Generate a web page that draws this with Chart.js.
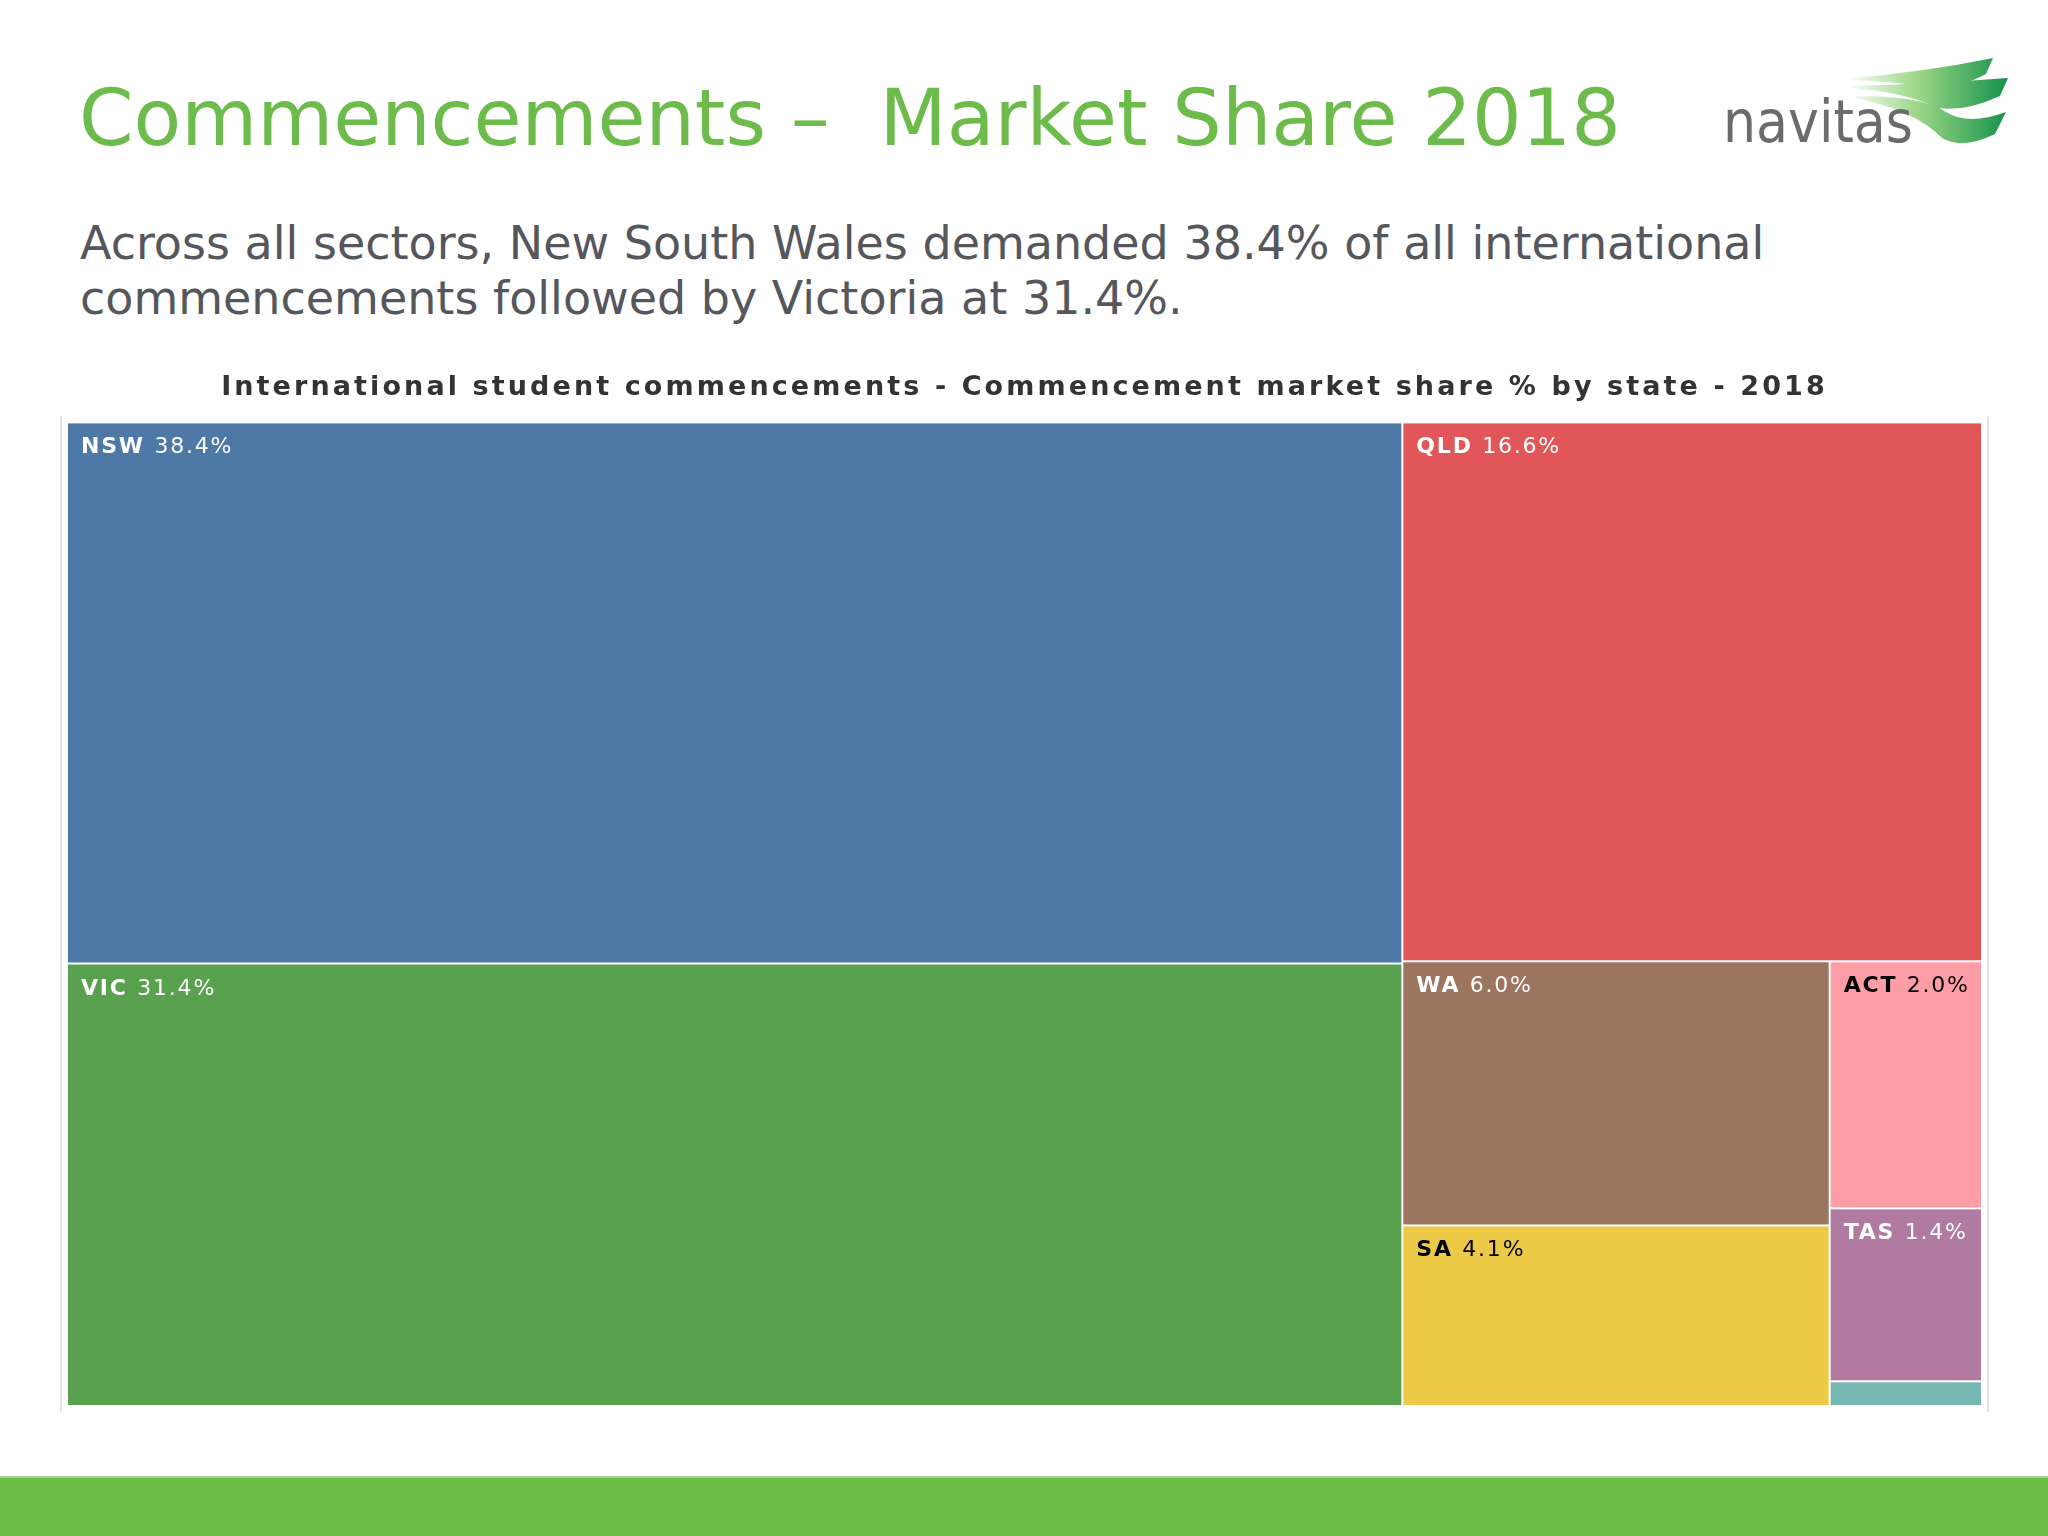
<!DOCTYPE html>
<html>
<head>
<meta charset="utf-8">
<title>Commencements - Market Share 2018</title>
<script src="https://cdn.jsdelivr.net/npm/chart.js"></script>
<style>
  html, body { margin: 0; padding: 0; background: #fff; }
  body { width: 2048px; height: 1536px; position: relative; overflow: hidden; font-family: "DejaVu Sans", Verdana, sans-serif; }
  .panel { position: absolute; left: 78px; top: 160px; width: 1920px; height: 1310px; background: #fefefe; }
  h1 { position: absolute; left: 79px; top: 79px; margin: 0; font-weight: normal; font-size: 78px; line-height: 78px; color: #6cbb4b; white-space: pre; }
  .sub { position: absolute; left: 80px; top: 216px; margin: 0; font-size: 46px; line-height: 55px; color: #55575c; }
  .logo { position: absolute; left: 1710px; top: 40px; }
  .chartBox { position: absolute; left: 0; top: 340px; width: 2048px; height: 1080px; }
  .footer { position: absolute; left: 0; top: 1476px; width: 2048px; height: 60px; background: #6cbd45; border-top: 2px solid #a8cf95; box-sizing: border-box; }
</style>
</head>
<body>
<div class="panel"></div>
<h1>Commencements –  Market Share 2018</h1>
<p class="sub">Across all sectors, New South Wales demanded 38.4% of all international<br>commencements followed by Victoria at 31.4%.</p>

<svg class="logo" width="320" height="120" viewBox="0 0 320 120">
  <defs>
    <linearGradient id="swoosh" gradientUnits="userSpaceOnUse" x1="135" y1="0" x2="300" y2="0">
      <stop offset="0" stop-color="#ffffff"/>
      <stop offset="0.45" stop-color="#9ad584"/>
      <stop offset="1" stop-color="#11904a"/>
    </linearGradient>
  </defs>
  <path d="M140,38 Q215,32 283,18 L276,34 Q245,50 222,48 Q190,42 140,40 Z" fill="url(#swoosh)"/>
  <path d="M140,46 Q220,44 298,38 L290,56 Q255,72 228,68 Q195,52 140,48 Z" fill="url(#swoosh)"/>
  <path d="M145,56 Q215,56 236,72 Q258,86 296,72 L285,94 Q252,110 232,98 Q205,70 145,58 Z" fill="url(#swoosh)"/>
  <text x="13" y="102" font-family="DejaVu Sans" font-size="58" fill="#6b6b6d" textLength="190" lengthAdjust="spacingAndGlyphs">navitas</text>
</svg>

<div class="chartBox"><canvas id="shareChart"></canvas></div>
<div class="footer"></div>

<script>
// market share by state, 2018 (percent of all international commencements)
const states = ['NSW', 'VIC', 'QLD', 'WA', 'SA', 'ACT', 'TAS', 'NT'];
const sharePct = [38.4, 31.4, 16.6, 6.0, 4.1, 2.0, 1.4, 0.2];

const cellColors = ['#4e79a7', '#59a14f', '#e15759', '#9c755f', '#edc948', '#ff9da7', '#b07aa1', '#76b7b2'];
const labelColors = ['#fff', '#fff', '#fff', '#fff', '#000', '#000', '#fff', '#fff'];

const phi = (1 + Math.sqrt(5)) / 2;

// squarified layout (same rule as d3.treemapSquarify), in a w x h box
function squarify(values, w, h) {
  const rects = [];
  const n = values.length;
  let x0 = 0, y0 = 0, x1 = w, y1 = h;
  let value = values.reduce((a, b) => a + b, 0);
  let i0 = 0, i1 = 0;
  while (i0 < n) {
    const dx = x1 - x0, dy = y1 - y0;
    let sum = values[i1++];
    let minV = sum, maxV = sum;
    const alpha = Math.max(dy / dx, dx / dy) / (value * phi);
    let beta = sum * sum * alpha;
    let minRatio = Math.max(maxV / beta, beta / minV);
    for (; i1 < n; ++i1) {
      const v = values[i1];
      sum += v;
      if (v < minV) minV = v;
      if (v > maxV) maxV = v;
      beta = sum * sum * alpha;
      const r = Math.max(maxV / beta, beta / minV);
      if (r > minRatio) { sum -= v; break; }
      minRatio = r;
    }
    if (dx < dy) {
      const rowH = dy * sum / value;
      let x = x0;
      for (let i = i0; i < i1; i++) {
        const cw = dx * values[i] / sum;
        rects[i] = { x0: x, y0: y0, x1: x + cw, y1: y0 + rowH };
        x += cw;
      }
      y0 += rowH;
    } else {
      const colW = dx * sum / value;
      let y = y0;
      for (let i = i0; i < i1; i++) {
        const ch = dy * values[i] / sum;
        rects[i] = { x0: x0, y0: y, x1: x0 + colW, y1: y + ch };
        y += ch;
      }
      x0 += colW;
    }
    value -= sum;
    i0 = i1;
  }
  return rects;
}

const treemapCells = {
  id: 'treemapCells',
  beforeDraw(chart) {
    chart.ctx.letterSpacing = '3.1px';
  },
  beforeDatasetsDraw(chart) {
    const { ctx, chartArea: area, scales } = chart;
    const ds = chart.data.datasets[0];
    const vals = ds.tree;
    const W = area.right - area.left, H = area.bottom - area.top;
    const rects = squarify(vals, W, H);

    ctx.save();
    // thin frame lines left and right
    ctx.strokeStyle = '#d9d9d9';
    ctx.lineWidth = 1.5;
    ctx.beginPath();
    ctx.moveTo(area.left - 6, area.top - 6); ctx.lineTo(area.left - 6, area.bottom + 6);
    ctx.moveTo(area.right + 6, area.top - 6); ctx.lineTo(area.right + 6, area.bottom + 6);
    ctx.stroke();

    rects.forEach((r, i) => {
      const left = scales.x.getPixelForValue(r.x0 / W);
      const right = scales.x.getPixelForValue(r.x1 / W);
      const top = scales.y.getPixelForValue(r.y0 / H);
      const bottom = scales.y.getPixelForValue(r.y1 / H);
      ctx.fillStyle = ds.backgroundColor[i];
      ctx.fillRect(left + 1, top + 1, right - left - 2, bottom - top - 2);

      if (bottom - top < 45) return;
      ctx.letterSpacing = '1.8px';
      ctx.textBaseline = 'alphabetic';
      ctx.textAlign = 'left';
      ctx.fillStyle = labelColors[i];
      ctx.font = 'bold 22px "DejaVu Sans"';
      const name = chart.data.labels[i] + ' ';
      ctx.fillText(name, left + 14, top + 31);
      const nw = ctx.measureText(name).width;
      ctx.font = '22px "DejaVu Sans"';
      ctx.fillText(vals[i].toFixed(1) + '%', left + 14 + nw, top + 31);
    });
    ctx.restore();
  }
};

new Chart(document.getElementById('shareChart'), {
  type: 'scatter',
  data: {
    labels: states,
    datasets: [{
      label: 'Commencement market share %',
      data: [],
      tree: sharePct,
      backgroundColor: cellColors,
      pointRadius: 0
    }]
  },
  options: {
    responsive: true,
    maintainAspectRatio: false,
    animation: false,
    layout: { padding: { left: 67, right: 66, top: 0, bottom: 14 } },
    scales: {
      x: { type: 'linear', min: 0, max: 1, display: false },
      y: { type: 'linear', min: 0, max: 1, reverse: true, display: false }
    },
    plugins: {
      legend: { display: false },
      tooltip: { enabled: false },
      title: {
        display: true,
        text: 'International student commencements - Commencement market share % by state - 2018',
        color: '#333333',
        font: { family: 'DejaVu Sans', size: 27, weight: 'bold' },
        padding: { top: 32, bottom: 18 }
      }
    }
  },
  plugins: [treemapCells]
});
</script>
</body>
</html>
